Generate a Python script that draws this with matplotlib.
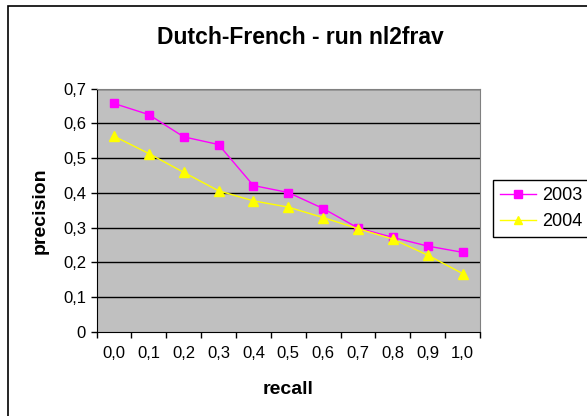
import numpy as np
import matplotlib
matplotlib.use('Agg')
from matplotlib import pyplot as plt
from matplotlib.patches import Rectangle

plt.rcParams['font.family'] = ['Liberation Sans', 'DejaVu Sans']

recall = ['0,0', '0,1', '0,2', '0,3', '0,4', '0,5', '0,6', '0,7', '0,8', '0,9', '1,0']
prec_2003 = [0.657, 0.625, 0.561, 0.539, 0.421, 0.401, 0.355, 0.299, 0.272, 0.247, 0.229]
prec_2004 = [0.563, 0.513, 0.459, 0.406, 0.377, 0.359, 0.329, 0.297, 0.267, 0.221, 0.168]
yticks = [0, 0.1, 0.2, 0.3, 0.4, 0.5, 0.6, 0.7]
ytick_labels = ['0', '0,1', '0,2', '0,3', '0,4', '0,5', '0,6', '0,7']

W, H = 587, 416
fig = plt.figure(figsize=(W / 100, H / 100), dpi=100)
ax = fig.add_axes([96.5 / W, 1 - 332 / H, (480 - 96.5) / W, (332 - 88.5) / H])

# outer chart frame (cropped on the right and bottom)
fig.patches.append(Rectangle((8 / W, -0.05), 1.2, 1 - 6 / H + 0.05, transform=fig.transFigure,
                             fill=False, edgecolor='black', linewidth=1.2))

x = np.arange(len(recall))
ax.set_facecolor('#C0C0C0')
for yv in yticks[1:]:
    ax.axhline(yv, color='black', linewidth=1, zorder=1)

ax.plot(x, prec_2003, color='#FF00FF', marker='s', markersize=6, linewidth=1, label='2003', zorder=3)
ax.plot(x, prec_2004, color='#FFFF00', marker='^', markersize=7, linewidth=1, label='2004', zorder=3)

ax.set_xlim(-0.5, len(recall) - 0.5)
ax.set_ylim(0, 0.7)
ax.set_xticks(np.arange(len(recall) + 1) - 0.5)
ax.set_xticklabels([])
ax.set_xticks(x, minor=True)
ax.set_xticklabels(recall, minor=True)
ax.tick_params(axis='x', which='major', direction='out', length=4, width=1)
ax.tick_params(axis='x', which='minor', length=0, pad=10, labelsize=12)
ax.set_yticks(yticks)
ax.set_yticklabels(ytick_labels)
ax.tick_params(axis='y', direction='out', length=4, width=1, labelsize=12, pad=3.5)

for side in ['top', 'right']:
    ax.spines[side].set_color('#808080')
for side in ['left', 'bottom']:
    ax.spines[side].set_color('black')

ax.set_xlabel('recall', fontsize=14, fontweight='bold', va='center')
ax.xaxis.set_label_coords(0.5, -(390 - 332) / 243.5)
ax.set_ylabel('precision', fontsize=14, fontweight='bold', va='center')
ax.yaxis.set_label_coords(-(96.5 - 40) / 383.5, 0.5)
fig.text(300 / W, 1 - 37 / H, 'Dutch-French - run nl2frav', ha='center', va='center',
         fontsize=16.5, fontweight='bold')

leg = fig.legend(loc='upper left', bbox_to_anchor=(493 / W, 1 - 180 / H), borderaxespad=0,
                 fontsize=13, fancybox=False, edgecolor='black', framealpha=1,
                 handlelength=2.0, handletextpad=0.3, borderpad=0.4, labelspacing=0.5,
                 markerscale=0.85)
leg.get_frame().set_linewidth(1)

plt.savefig('out.png', dpi=100)
